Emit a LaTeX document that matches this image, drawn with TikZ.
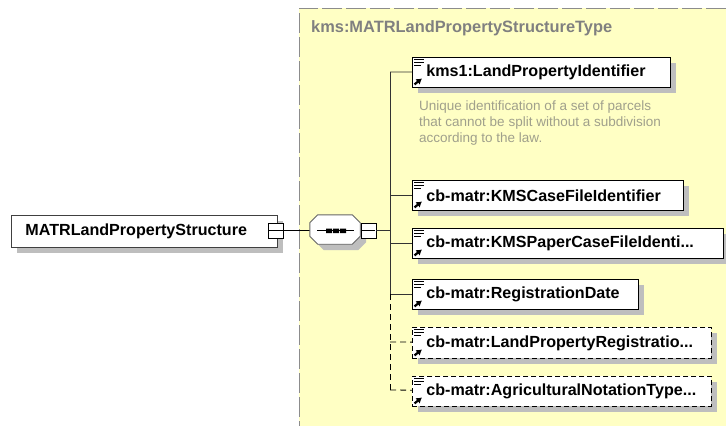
\documentclass[tikz,border=0pt]{standalone}
\usepackage{fontspec}
\setmainfont{Liberation Sans}
\usetikzlibrary{shadows,arrows.meta}
\definecolor{typefill}{HTML}{FFFFC4}
\definecolor{typetext}{HTML}{808080}
\definecolor{doctext}{HTML}{A0A08C}
\definecolor{shade}{HTML}{BEBEBE}
\tikzset{
  boxshadow/.style={drop shadow={shadow xshift=6pt,shadow yshift=-6pt,fill=shade,opacity=1}},
  elem/.style={draw=black,line width=0.9pt,fill=white,boxshadow,anchor=north west,
    minimum height=30pt,inner sep=0pt,inner xsep=14pt,text=black,align=left,
    font=\bfseries\fontsize{16.1}{18}\selectfont},
  optelem/.style={elem,dash pattern=on 5pt off 3pt},
  toggle/.style={draw=black,line width=0.9pt,fill=white,minimum size=15pt,inner sep=0pt,anchor=center},
  conn/.style={line width=0.8pt,draw=black!80},
}
\newcommand{\elemicon}[1]{
  \draw[line width=0.7pt] ([shift={(2,2.5)}]#1.north west) -- +(10,0);
  \draw[line width=0.7pt] ([shift={(2,5.5)}]#1.north west) -- +(10,0);
  \draw[line width=0.7pt] ([shift={(2,8.5)}]#1.north west) -- +(7,0);
  \draw[line width=2.2pt,-{Latex[length=5.5pt,width=7pt]}] ([shift={(2.5,-3.5)}]#1.south west) -- +(7.5,-6);
}
\newcommand{\minusmark}[1]{
  \draw[line width=0.6pt] ([xshift=1pt]#1.west) to ([xshift=-1pt]#1.east);
}
\begin{document}
\begin{tikzpicture}[x=1pt,y=-1pt]
  \useasboundingbox (0,0) rectangle (726,426);
  \fill[typefill] (299,8) rectangle (726,426);
  \draw[line width=1pt,draw=black!45,dash pattern=on 20pt off 4pt] (726,8) -- (299,8) -- (299,426);
  \node[anchor=west,text=typetext,inner sep=0pt,font=\bfseries\fontsize{16.4}{18}\selectfont] (title) at (311,28)
    {kms:MATRLandPropertyStructureType};

  \draw[conn,draw=black] (277,230.5) to (310,230.5);
  \node[elem,minimum height=32pt,text width=238pt,draw=black!75] (root) at (11,215)
    {MATRLandPropertyStructure};
  \node[toggle] (rootbtn) at (276,230.5) {};
  \minusmark{rootbtn}

  \node[minimum width=50pt,minimum height=29pt,inner sep=0pt] (seq) at (335,229.5) {};
  \draw[draw=black!60,line width=0.9pt,fill=white,boxshadow]
    ([xshift=8pt]seq.north west) -- ([xshift=-8pt]seq.north east) -- ([yshift=-8pt]seq.north east)
    -- ([yshift=8pt]seq.south east) -- ([xshift=-8pt]seq.south east) -- ([xshift=8pt]seq.south west)
    -- ([yshift=8pt]seq.south west) -- ([yshift=-8pt]seq.north west) -- cycle;
  \draw[line width=0.7pt] (317,230.5) -- (354,230.5);
  \fill (326,228.5) rectangle (332,233) (333,228.5) rectangle (339,233) (340,228.5) rectangle (346,233);
  \node[toggle] (seqbtn) at (368.5,230.5) {};
  \minusmark{seqbtn}

  \coordinate (spine) at (390,230.5);
  \coordinate (top) at (390,72);
  \coordinate (reg) at (390,294);
  \coordinate (land) at (390,342);
  \coordinate (agri) at (390,390);

  \node[elem,text width=230pt] (kms) at (412,57) {kms1:LandPropertyIdentifier};
  \node[elem,text width=243pt] (case) at (412,180) {cb-matr:KMSCaseFileIdentifier};
  \node[elem,text width=283pt] (paper) at (412,228) {cb-matr:KMSPaperCaseFileIdenti...};
  \node[elem,text width=198pt] (date) at (412,279) {cb-matr:RegistrationDate};
  \node[optelem,text width=271pt,minimum height=31pt] (landreg) at (412,327) {cb-matr:LandPropertyRegistratio...};
  \node[optelem,text width=271pt] (agrinot) at (412,376) {cb-matr:AgriculturalNotationType...};
  \foreach \n in {kms,case,paper,date,landreg,agrinot} {\elemicon{\n}}

  \node[anchor=north west,text=doctext,inner sep=0pt,align=left,font=\fontsize{13.5}{16}\selectfont] (doc) at (419,100.5)
    {Unique identification of a set of parcels\\that cannot be split without a subdivision\\according to the law.};

  \begin{scope}[conn]
    \draw (seqbtn) to (spine);
    \draw (top) to (reg);
    \draw (top) to (kms);
    \draw (case.west) to (case.west -| spine);
    \draw (paper.west) to (paper.west -| spine);
    \draw (date.west) to (date.west -| spine);
  \end{scope}
  \begin{scope}[conn,draw=black,dash pattern=on 6pt off 4pt]
    \draw (reg) to (agri);
    \draw (land) to (landreg);
    \draw (agri) to (agrinot);
  \end{scope}
\end{tikzpicture}
\end{document}
